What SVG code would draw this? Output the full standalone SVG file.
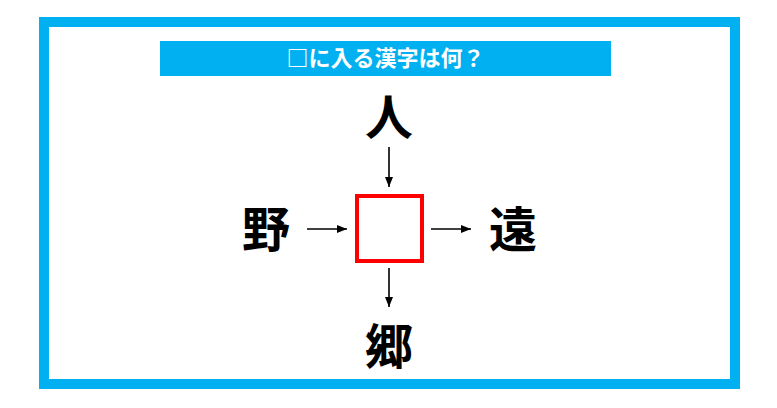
<svg xmlns="http://www.w3.org/2000/svg" width="777" height="408" viewBox="0 0 777 408">
<style>
.k{font-family:"Noto Sans CJK JP","Noto Sans CJK SC",sans-serif;font-weight:bold;font-size:48px;fill:#000;text-anchor:middle}
.t{font-family:"Noto Sans CJK JP","Noto Sans CJK SC",sans-serif;font-weight:bold;font-size:22px;fill:#fff;text-anchor:middle}
.c{stroke:#000;stroke-width:1.6;fill:none;marker-end:url(#ah)}
</style>
<defs>
<marker id="ah" viewBox="0 0 10 8" refX="10" refY="4" markerWidth="10" markerHeight="8" markerUnits="userSpaceOnUse" orient="auto">
<path d="M0,0 L10,4 L0,8 Z" fill="#000"/>
</marker>
</defs>
<rect width="777" height="408" fill="#fff"/>
<rect id="frame" x="44" y="22" width="691" height="362" fill="none" stroke="#00b0f0" stroke-width="10"/>
<g id="title">
<rect x="160" y="41" width="451" height="35" fill="#00b0f0"/>
<text class="t" x="385.5" y="66">□に入る漢字は何？</text>
</g>
<g id="node-center"><rect x="357" y="196" width="65" height="65" fill="#fff" stroke="#ff0000" stroke-width="4"/></g>
<g id="node-top"><text class="k" x="389" y="135">人</text></g>
<g id="node-left"><text class="k" x="266" y="247">野</text></g>
<g id="node-right"><text class="k" x="513" y="247">遠</text></g>
<g id="node-bottom"><text class="k" x="389" y="364">郷</text></g>
<g id="connectors">
<line class="c" x1="389" y1="147" x2="389" y2="187"/>
<line class="c" x1="307" y1="229" x2="347" y2="229"/>
<line class="c" x1="431" y1="229" x2="471" y2="229"/>
<line class="c" x1="389" y1="268" x2="389" y2="307"/>
</g>
</svg>
